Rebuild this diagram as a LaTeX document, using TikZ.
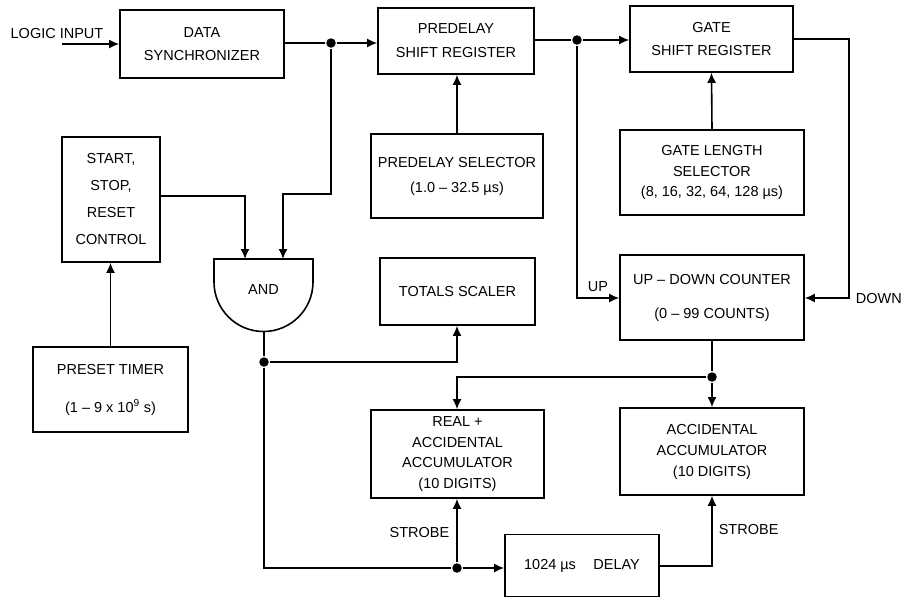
\documentclass[tikz,border=0pt]{standalone}
\usepackage{fontspec}
\setmainfont{Liberation Sans}
\usetikzlibrary{arrows.meta}
\begin{document}
\begin{tikzpicture}[x=1pt,y=1pt,yscale=-1,
  line width=1.6pt,
  font=\fontsize{14.5}{17}\selectfont,
  arr/.style={-{Latex[length=10pt,width=9pt]}},
  blk/.style={draw,rectangle,inner sep=0pt,align=center},
  lbl/.style={inner sep=0pt},
  jdot/.style={circle,fill,inner sep=0pt,minimum size=9.5pt}]
\useasboundingbox (0,0) rectangle (901,598);
% blocks
\node[blk,minimum width=164pt,minimum height=68pt,font=\fontsize{14.5}{23}\selectfont] (ds) at (202,44) {DATA\\SYNCHRONIZER};
\node[blk,minimum width=156pt,minimum height=66pt,font=\fontsize{14.5}{24}\selectfont] (psr) at (456,41) {PREDELAY\\SHIFT REGISTER};
\node[blk,minimum width=163pt,minimum height=66pt,font=\fontsize{14.5}{23}\selectfont] (gsr) at (711.5,39) {GATE\\SHIFT REGISTER};
\node[blk,minimum width=98pt,minimum height=125pt,font=\fontsize{14.5}{27}\selectfont] (ssr) at (111,199.5) {START,\\STOP,\\RESET\\CONTROL};
\node[blk,minimum width=172pt,minimum height=84pt,font=\fontsize{14.5}{25}\selectfont] (pds) at (457,176) {PREDELAY SELECTOR\\(1.0 -- 32.5 µs)};
\node[blk,minimum width=184pt,minimum height=85pt,font=\fontsize{14.5}{20.5}\selectfont] (gls) at (712,172.5) {GATE LENGTH\\SELECTOR\\(8, 16, 32, 64, 128 µs)};
\node[blk,minimum width=155pt,minimum height=67pt] (ts) at (457.5,291.5) {TOTALS SCALER};
\node[blk,minimum width=184pt,minimum height=85pt,font=\fontsize{14.5}{34}\selectfont] (udc) at (712,297.5) {UP -- DOWN COUNTER\\(0 -- 99 COUNTS)};
\node[blk,minimum width=155pt,minimum height=85pt,font=\fontsize{14.5}{38}\selectfont] (pt) at (110.5,389.5) {PRESET TIMER\\(1 -- 9 x 10\textsuperscript{9} s)};
\node[blk,minimum width=173pt,minimum height=88pt,font=\fontsize{14.5}{20.5}\selectfont] (real) at (457.5,454) {REAL +\\ACCIDENTAL\\ACCUMULATOR\\(10 DIGITS)};
\node[blk,minimum width=184pt,minimum height=87pt,font=\fontsize{14.5}{21}\selectfont] (acc) at (712,451.5) {ACCIDENTAL\\ACCUMULATOR\\(10 DIGITS)};
\node[blk,minimum width=154pt,minimum height=62pt] (dly) at (582,565.5) {1024 µs\hspace{1.2em}DELAY};
% AND gate
\draw (214,259) -- (313,259) -- (313,282) arc(0:180:49.5) -- cycle;
\node[lbl] (and) at (263.5,290) {AND};
\coordinate (andA) at (245,259);
\coordinate (andB) at (283,259);
\coordinate (andO) at (264,331.5);
% labels
\node[lbl] (li) at (57,34) {LOGIC INPUT};
\node[lbl] (up) at (598,287) {UP};
\node[lbl,anchor=west] (dn) at (855,298) {DOWN};
\node[lbl,anchor=east] (st1) at (450,532) {STROBE};
\node[lbl,anchor=west] (st2) at (718,529) {STROBE};
% junctions
\coordinate (lin) at (62,44);
\node[jdot] (j1) at (331,43) {};
\node[jdot] (j2) at (577,40) {};
\node[jdot] (j3) at (264,362) {};
\node[jdot] (j4) at (457,568) {};
\node[jdot] (j5) at (712,377) {};
\coordinate (c1) at (849,39);
\coordinate (c2) at (849,298);
\coordinate (c3) at (577,298);
\coordinate (c4) at (331,194);
\coordinate (c5) at (283,194);
\coordinate (c6) at (245,196);
\coordinate (c7) at (457,362);
\coordinate (c8) at (264,568);
\coordinate (c9) at (712,566);
\coordinate (c10) at (457,377);
% connectors
\draw[arr] (lin) -- (lin -| ds.west);
\draw[arr] (ds.east |- j1) -- (j1) -- (j1 -| psr.west);
\draw[arr] (psr.east |- j2) -- (j2) -- (j2 -| gsr.west);
\draw[arr] (gsr.east |- c1) -- (c1) -- (c2) -- (c2 -| udc.east);
\draw[arr] (j2) -- (c3) -- (c3 -| udc.west);
\draw[arr] (gls.north) -- (gsr.south);
\draw[arr] (pds.north) -- (psr.south -| pds.north);
\draw[arr] (j1) -- (c4) -- (c5) -- (andB);
\draw[arr] (ssr.east |- c6) -- (c6) -- (andA);
\draw[arr] (pt.north) -- (ssr.south -| pt.north);
\draw[arr] (andO) -- (j3) -- (c7) -- (ts.south -| c7);
\draw[arr] (j3) -- (c8) -- (j4) -- (j4 -| dly.west);
\draw[arr] (j4) -- (real.south -| j4);
\draw[arr] (dly.east |- c9) -- (c9) -- (acc.south);
\draw[arr] (udc.south) -- (j5) -- (acc.north);
\draw[arr] (j5) -- (c10) -- (real.north -| c10);
\end{tikzpicture}
\end{document}
